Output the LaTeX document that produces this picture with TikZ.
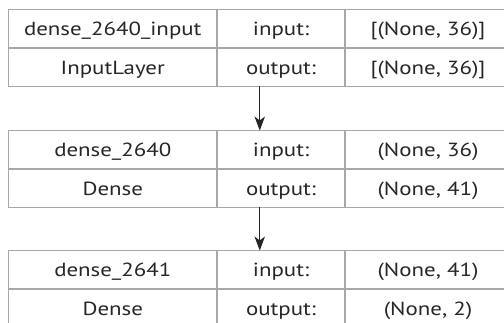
\documentclass[tikz,border=0pt]{standalone}
\usepackage{fontspec}
\usepackage{graphicx}
\setmainfont{PT Sans}
\usetikzlibrary{arrows.meta}
\definecolor{gridgray}{HTML}{A8A8A8}
\definecolor{inkgray}{HTML}{262626}
% cell text is set slightly wide
\newcommand{\celltext}[1]{\scalebox{1.205}[1]{#1}}
\begin{document}
\begin{tikzpicture}[x=1pt,y=-1pt,
  layerbox/.style={draw=gridgray, line width=1.4pt, minimum width=502.5pt,
    minimum height=77pt, inner sep=0pt, outer sep=0pt},
  grid/.style={draw=gridgray, line width=1.4pt},
  cell/.style={anchor=base, inner sep=0pt, text=inkgray, font=\fontsize{19}{21}\selectfont},
  flow/.style={draw=black!85, line width=1.2pt, -{Stealth[length=14pt,width=10.5pt,inset=4pt]}}]
\useasboundingbox (0,0) rectangle (504,323);

% three layer tables: name/type | input/output | shapes
\foreach \n/\top in {t1/9.5, t2/130.5, t3/250.5}{
  \node[layerbox, anchor=north] (\n) at (259.75,\top) {};
  \draw[grid] (217,\top) -- ++(0,77);
  \draw[grid] (345,\top) -- ++(0,77);
  \draw[grid] (8.5,\top+38.5) -- (511,\top+38.5);
}

% table 1
\node[cell] (a1) at (112.75,35.8) {\celltext{dense\_2640\_input}};
\node[cell] (a2) at (281,35.8) {\celltext{input:}};
\node[cell] (a3) at (428,35.8) {\celltext{[(None, 36)]}};
\node[cell] (a4) at (112.75,74.3) {\celltext{InputLayer}};
\node[cell] (a5) at (281,74.3) {\celltext{output:}};
\node[cell] (a6) at (428,74.3) {\celltext{[(None, 36)]}};

% table 2
\node[cell] (b1) at (112.75,156.8) {\celltext{dense\_2640}};
\node[cell] (b2) at (281,156.8) {\celltext{input:}};
\node[cell] (b3) at (428,156.8) {\celltext{(None, 36)}};
\node[cell] (b4) at (112.75,195.3) {\celltext{Dense}};
\node[cell] (b5) at (281,195.3) {\celltext{output:}};
\node[cell] (b6) at (428,195.3) {\celltext{(None, 41)}};

% table 3
\node[cell] (c1) at (112.75,276.8) {\celltext{dense\_2641}};
\node[cell] (c2) at (281,276.8) {\celltext{input:}};
\node[cell] (c3) at (428,276.8) {\celltext{(None, 41)}};
\node[cell] (c4) at (112.75,315.3) {\celltext{Dense}};
\node[cell] (c5) at (281,315.3) {\celltext{output:}};
\node[cell] (c6) at (428,315.3) {\celltext{(None, 2)}};

% connectors
\draw[flow] (t1.south) -- (t2.north);
\draw[flow] (t2.south) -- (t3.north);
\end{tikzpicture}
\end{document}
